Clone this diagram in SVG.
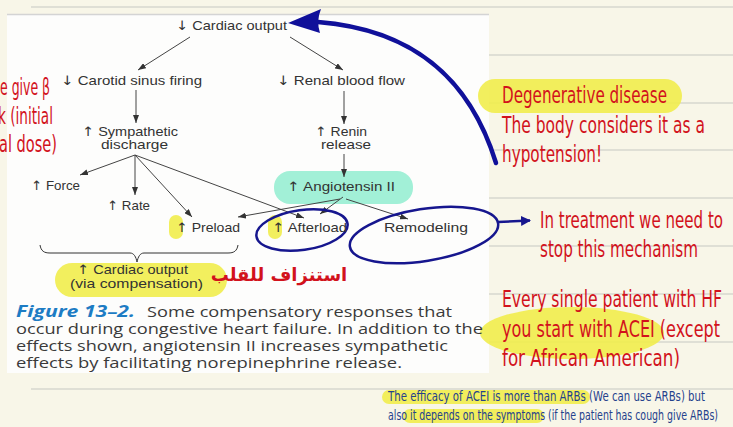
<svg xmlns="http://www.w3.org/2000/svg" width="733" height="427" viewBox="0 0 733 427">
<defs>
<style>
.rule{stroke:#d7d7cf;stroke-width:1.5}
.tb{font-family:"Liberation Sans",Arial,sans-serif;font-size:13px;fill:#333}
.ar{font-family:"DejaVu Sans",sans-serif;font-size:13px}
.cap{font-family:"Open Sans","Noto Sans","Liberation Sans",sans-serif;font-size:15px;fill:#3a3a3a}
.fig{font-family:"Open Sans","Noto Sans",sans-serif;font-size:16px;font-weight:bold;font-style:italic;fill:#1d7cc4}
.hand{font-family:"Liberation Sans Narrow","DejaVu Sans Condensed","Liberation Sans",sans-serif;font-size:23px;fill:#d2121c}
.note{font-family:"Liberation Sans Narrow","DejaVu Sans Condensed","Liberation Sans",sans-serif;font-size:14px;fill:#24418c}
.conn{stroke:#444;stroke-width:1;fill:none;marker-end:url(#ah)}
.hl{fill:#f1ed4c;opacity:0.9}
.ring{fill:none;stroke:#16168e;stroke-width:2.5}
</style>
<marker id="ah" viewBox="0 0 8 6" refX="8" refY="3" markerWidth="8" markerHeight="6" markerUnits="userSpaceOnUse" orient="auto">
<path d="M0,0 L8,3 L0,6 z" fill="#333"/>
</marker>
<marker id="bh" viewBox="0 0 10 10" refX="9" refY="5" markerWidth="10" markerHeight="10" markerUnits="userSpaceOnUse" orient="auto">
<path d="M0,0 L10,5 L0,10 z" fill="#16168e"/>
</marker>
</defs>
<rect x="0" y="0" width="733" height="427" fill="#f8f6e8"/>
<g id="rules">
<line class="rule" x1="31" y1="7" x2="733" y2="7"/>
<line class="rule" x1="31" y1="55" x2="733" y2="55"/>
<line class="rule" x1="31" y1="103" x2="733" y2="103"/>
<line class="rule" x1="31" y1="150" x2="733" y2="150"/>
<line class="rule" x1="31" y1="198" x2="733" y2="198"/>
<line class="rule" x1="31" y1="246" x2="733" y2="246"/>
<line class="rule" x1="31" y1="294" x2="733" y2="294"/>
<line class="rule" x1="31" y1="342" x2="733" y2="342"/>
<line class="rule" x1="31" y1="389" x2="733" y2="389"/>
</g>
<g id="page">
<rect x="7" y="14" width="482" height="359" fill="#fdfdfc"/>
<line x1="7" y1="14.5" x2="489" y2="14.5" stroke="#d4d4d4" stroke-width="1.5"/>
</g>
<g id="highlights">
<rect x="274" y="171" width="139" height="33" rx="16" fill="#a2f0d7"/>
<rect class="hl" x="169" y="215" width="14" height="24" rx="7"/>
<rect class="hl" x="268" y="215" width="14" height="24" rx="7"/>
<rect class="hl" x="55" y="263" width="172" height="34" rx="17"/>
<rect class="hl" x="478" y="79" width="204" height="34" rx="17"/>
<ellipse class="hl" cx="572" cy="333" rx="92" ry="26"/>
<rect class="hl" x="382" y="390" width="208" height="14" rx="7"/>
<rect class="hl" x="403" y="409" width="141" height="14" rx="7"/>
</g>
<g id="connectors">
<line class="conn" x1="190" y1="37" x2="138" y2="70"/>
<line class="conn" x1="290" y1="37" x2="343" y2="70"/>
<line class="conn" x1="136" y1="90" x2="136" y2="123"/>
<line class="conn" x1="344" y1="91" x2="344" y2="124"/>
<line class="conn" x1="344" y1="154" x2="344" y2="177"/>
<line class="conn" x1="135" y1="155" x2="80" y2="175"/>
<line class="conn" x1="135" y1="155" x2="135" y2="195"/>
<line class="conn" x1="135" y1="155" x2="192" y2="217"/>
<line class="conn" x1="135" y1="155" x2="304" y2="218"/>
<line class="conn" x1="340" y1="199" x2="238" y2="217"/>
<line class="conn" x1="343" y1="197" x2="320" y2="214"/>
<line class="conn" x1="346" y1="199" x2="408" y2="219"/>
<path d="M40,245 C41,251 44,253 50,253 L130,253 C134,253 136,257 137,262 C138,257 140,253 144,253 L228,253 C234,253 237,251 238,245" fill="none" stroke="#333" stroke-width="1"/>
<path d="M496,163 C472,85 420,30 318,22" fill="none" stroke="#10109a" stroke-width="4.5" stroke-linecap="round"/>
<path d="M288,23 L321,9 Q316,21 320,33 Z" fill="#10109a"/>
<line x1="498" y1="222" x2="530" y2="220.5" stroke="#16168e" stroke-width="2.5" marker-end="url(#bh)"/>
</g>
<g id="n-cardiac"><text class="tb" x="176" y="30" textLength="111" lengthAdjust="spacingAndGlyphs"><tspan class="ar">↓</tspan> Cardiac output</text></g>
<g id="n-carotid"><text class="tb" x="61" y="85" textLength="141" lengthAdjust="spacingAndGlyphs"><tspan class="ar">↓</tspan> Carotid sinus firing</text></g>
<g id="n-renal"><text class="tb" x="277" y="85" textLength="128" lengthAdjust="spacingAndGlyphs"><tspan class="ar">↓</tspan> Renal blood flow</text></g>
<g id="n-sympathetic">
<text class="tb" x="82" y="136" textLength="96" lengthAdjust="spacingAndGlyphs"><tspan class="ar">↑</tspan> Sympathetic</text>
<text class="tb" x="101" y="149" textLength="67" lengthAdjust="spacingAndGlyphs">discharge</text>
</g>
<g id="n-renin">
<text class="tb" x="315" y="136" textLength="52" lengthAdjust="spacingAndGlyphs"><tspan class="ar">↑</tspan> Renin</text>
<text class="tb" x="321" y="149" textLength="50" lengthAdjust="spacingAndGlyphs">release</text>
</g>
<g id="n-angiotensin"><text class="tb" x="287" y="191" textLength="108" lengthAdjust="spacingAndGlyphs"><tspan class="ar">↑</tspan> Angiotensin II</text></g>
<g id="n-force"><text class="tb" x="31" y="190" textLength="49" lengthAdjust="spacingAndGlyphs"><tspan class="ar">↑</tspan> Force</text></g>
<g id="n-rate"><text class="tb" x="107" y="210" textLength="43" lengthAdjust="spacingAndGlyphs"><tspan class="ar">↑</tspan> Rate</text></g>
<g id="n-preload"><text class="tb" x="176" y="232" textLength="64" lengthAdjust="spacingAndGlyphs"><tspan class="ar">↑</tspan> Preload</text></g>
<g id="n-afterload">
<ellipse class="ring" cx="302" cy="230" rx="46" ry="20" transform="rotate(-8 302 230)"/>
<text class="tb" x="272" y="232" textLength="75" lengthAdjust="spacingAndGlyphs"><tspan class="ar">↑</tspan> Afterload</text>
</g>
<g id="n-remodeling">
<ellipse class="ring" cx="424" cy="235" rx="75" ry="26" transform="rotate(-9 424 235)"/>
<text class="tb" x="384" y="232" textLength="84" lengthAdjust="spacingAndGlyphs">Remodeling</text>
</g>
<g id="n-output2">
<text class="tb" x="77" y="274" textLength="111" lengthAdjust="spacingAndGlyphs"><tspan class="ar">↑</tspan> Cardiac output</text>
<text class="tb" x="70" y="288" textLength="133" lengthAdjust="spacingAndGlyphs">(via compensation)</text>
</g>
<g id="n-arabic"><text x="279" y="281" text-anchor="middle" font-family="'DejaVu Sans',sans-serif" font-size="18" font-weight="bold" fill="#d2121c">استنزاف للقلب</text></g>
<g id="caption">
<text class="fig" x="16" y="317" textLength="119" lengthAdjust="spacingAndGlyphs">Figure 13–2.</text>
<text class="cap" x="147" y="317" textLength="305" lengthAdjust="spacingAndGlyphs">Some compensatory responses that</text>
<text class="cap" x="16" y="334" textLength="467" lengthAdjust="spacingAndGlyphs">occur during congestive heart failure. In addition to the</text>
<text class="cap" x="16" y="351" textLength="432" lengthAdjust="spacingAndGlyphs">effects shown, angiotensin II increases sympathetic</text>
<text class="cap" x="16" y="368" textLength="386" lengthAdjust="spacingAndGlyphs">effects by facilitating norepinephrine release.</text>
</g>
<g id="n-left-note">
<text class="hand" x="50" y="95" text-anchor="end" textLength="50" lengthAdjust="spacingAndGlyphs">e give β</text>
<text class="hand" x="53" y="124" text-anchor="end" textLength="55" lengthAdjust="spacingAndGlyphs">k (initial</text>
<text class="hand" x="57" y="152" text-anchor="end" textLength="58" lengthAdjust="spacingAndGlyphs">al dose)</text>
</g>
<g id="n-degenerative">
<text class="hand" x="502" y="103" textLength="165" lengthAdjust="spacingAndGlyphs">Degenerative disease</text>
<text class="hand" x="502" y="133" textLength="203" lengthAdjust="spacingAndGlyphs">The body considers it as a</text>
<text class="hand" x="502" y="162" textLength="100" lengthAdjust="spacingAndGlyphs">hypotension!</text>
</g>
<g id="n-treatment">
<text class="hand" x="540" y="228" textLength="183" lengthAdjust="spacingAndGlyphs">In treatment we need to</text>
<text class="hand" x="540" y="257" textLength="158" lengthAdjust="spacingAndGlyphs">stop this mechanism</text>
</g>
<g id="n-acei">
<text class="hand" x="502" y="307" textLength="220" lengthAdjust="spacingAndGlyphs">Every single patient with HF</text>
<text class="hand" x="502" y="337" textLength="218" lengthAdjust="spacingAndGlyphs">you start with ACEI (except</text>
<text class="hand" x="502" y="366" textLength="178" lengthAdjust="spacingAndGlyphs">for African American)</text>
</g>
<g id="n-bottom-note">
<text class="note" x="388" y="401" textLength="317" lengthAdjust="spacingAndGlyphs">The efficacy of ACEI is more than ARBs  (We can use ARBs) but</text>
<text class="note" x="388" y="420" textLength="330" lengthAdjust="spacingAndGlyphs">also it depends on the symptoms (if the patient has cough give ARBs)</text>
</g>
</svg>
